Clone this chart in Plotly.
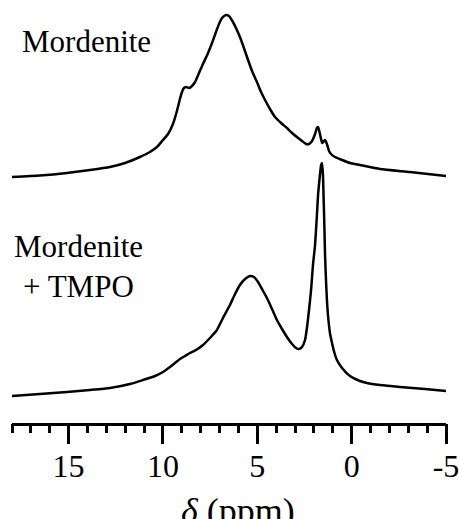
import plotly.graph_objects as go

# ---- data ----
# Mordenite (top trace): chemical shift (ppm) and intensity (a.u.)
ppm_top = [18.00, 16.52, 15.09, 13.87, 12.81, 12.01, 11.22, 10.69, 10.32, 10.00,
           9.73, 9.47, 9.26, 9.10, 8.99, 8.89, 8.78, 8.62, 8.46, 8.30,
           8.09, 7.88, 7.61, 7.40, 7.19, 7.03, 6.87, 6.66, 6.50, 6.29,
           6.13, 5.92, 5.71, 5.49, 5.28, 5.02, 4.80, 4.59, 4.33, 4.06,
           3.74, 3.43, 3.16, 2.90, 2.63, 2.42, 2.26, 2.10, 1.94, 1.84,
           1.78, 1.73, 1.62, 1.57, 1.47, 1.41, 1.31, 1.20, 1.09, 0.88,
           0.51, 0.09, -0.44, -1.50, -3.09, -5.00]
int_top = [0, 1.5, 4, 7, 10, 14, 20, 25, 30, 37,
           43, 53, 66, 78, 85, 89, 90, 89, 91, 95,
           104, 113, 124, 134, 145, 153, 159, 162, 161, 155,
           149, 140, 129, 117, 106, 95, 85, 77, 68, 60,
           54, 49, 44, 40, 36, 33, 33, 36, 43, 49,
           50, 47, 38, 34, 36, 37, 33, 26, 23, 20,
           17, 14, 12, 8, 5, 1]

# Mordenite + TMPO (bottom trace)
ppm_bot = [18.00, 16.52, 15.09, 13.87, 12.81, 11.75, 11.06, 10.42, 10.00, 9.63,
           9.36, 9.10, 8.83, 8.57, 8.25, 7.88, 7.51, 7.14, 6.82, 6.45,
           6.18, 5.92, 5.65, 5.39, 5.18, 4.96, 4.75, 4.49, 4.22, 3.96,
           3.69, 3.43, 3.16, 2.95, 2.79, 2.63, 2.47, 2.37, 2.26, 2.15,
           2.05, 1.94, 1.84, 1.78, 1.68, 1.62, 1.57, 1.52, 1.49, 1.44,
           1.41, 1.36, 1.31, 1.25, 1.15, 1.04, 0.94, 0.78, 0.51, 0.09,
           -0.44, -0.81, -1.50, -2.56, -3.89, -5.00]
int_bot = [0, 2, 4, 6, 8, 12, 16, 20, 24, 29,
           33, 37, 40, 43, 46, 51, 58, 66, 78, 91,
           102, 111, 117, 120, 119, 114, 107, 98, 87, 76,
           67, 59, 52, 48, 47, 49, 56, 68, 86, 106,
           131, 151, 181, 201, 221, 231, 233, 221, 201, 166,
           141, 116, 96, 80, 63, 53, 45, 36, 28, 20,
           15, 13, 11, 9, 7, 5]

offset_top = 247
offset_bot = 28

labels_top = ["Mordenite"]
labels_bot = ["Mordenite", "+ TMPO"]
tick_vals = [15, 10, 5, 0, -5]
tick_text = ["15", "10", "5", "0", "-5"]
x_range = [18, -5]

# ---- figure ----
W_FIG, H_FIG = 459, 519
L, R, T, B = 12, 13, 0, 96
PW, PH = W_FIG - L - R, H_FIG - T - B

def pxx(x):
    return (x - L) / PW

def pxy(y):
    return 1 - (y - T) / PH

FONT = "Liberation Serif"

fig = go.Figure()
# top trace on the overlaid minor-tick axis (identical range to the main x axis)
fig.add_trace(go.Scatter(x=ppm_top, y=[v + offset_top for v in int_top], mode="lines",
                         xaxis="x2", yaxis="y",
                         line=dict(color="black", width=2.5, shape="spline", smoothing=0.5),
                         hoverinfo="skip"))
fig.add_trace(go.Scatter(x=ppm_bot, y=[v + offset_bot for v in int_bot], mode="lines",
                         xaxis="x", yaxis="y",
                         line=dict(color="black", width=2.5, shape="spline", smoothing=0.5),
                         hoverinfo="skip"))

ann = [
    dict(text=labels_top[0], x=pxx(20), y=pxy(41.5), size=31),
    dict(text=labels_bot[0], x=pxx(12), y=pxy(246.5), size=31),
    dict(text=labels_bot[1], x=pxx(21), y=pxy(286.5), size=31),
]
for a in ann:
    fig.add_annotation(text=a["text"], x=a["x"], y=a["y"], xref="paper", yref="paper",
                       xanchor="left", yanchor="middle", showarrow=False,
                       font=dict(family=FONT, size=a["size"], color="black"))
fig.add_annotation(text="<i>δ</i> (ppm)", x=pxx(238), y=pxy(510.8), xref="paper", yref="paper",
                   xanchor="center", yanchor="middle", showarrow=False,
                   font=dict(family=FONT, size=36, color="black"))

fig.update_layout(
    width=W_FIG, height=H_FIG,
    margin=dict(l=L, r=R, t=T, b=B, pad=0, autoexpand=False),
    paper_bgcolor="white", plot_bgcolor="white",
    showlegend=False,
    xaxis=dict(range=x_range, showgrid=False, zeroline=False, automargin=False,
               showline=True, linecolor="black", linewidth=3,
               ticks="outside", ticklen=18, tickwidth=3, tickcolor="black",
               tickvals=tick_vals, ticktext=tick_text,
               tickfont=dict(family=FONT, size=32, color="black"),
               ticklabelstandoff=-5, ticklabeloverflow="allow"),
    xaxis2=dict(range=x_range, overlaying="x", anchor="y", side="bottom",
                showgrid=False, zeroline=False, automargin=False, showline=False,
                ticks="outside", ticklen=9, tickwidth=3, tickcolor="black",
                tick0=0, dtick=1, showticklabels=False),
    yaxis=dict(range=[1, 1 + PH], visible=False, showgrid=False, zeroline=False,
               automargin=False),
)

fig.write_html("out.html", config={"displayModeBar": False},
               post_script="document.body.style.margin='0';")
